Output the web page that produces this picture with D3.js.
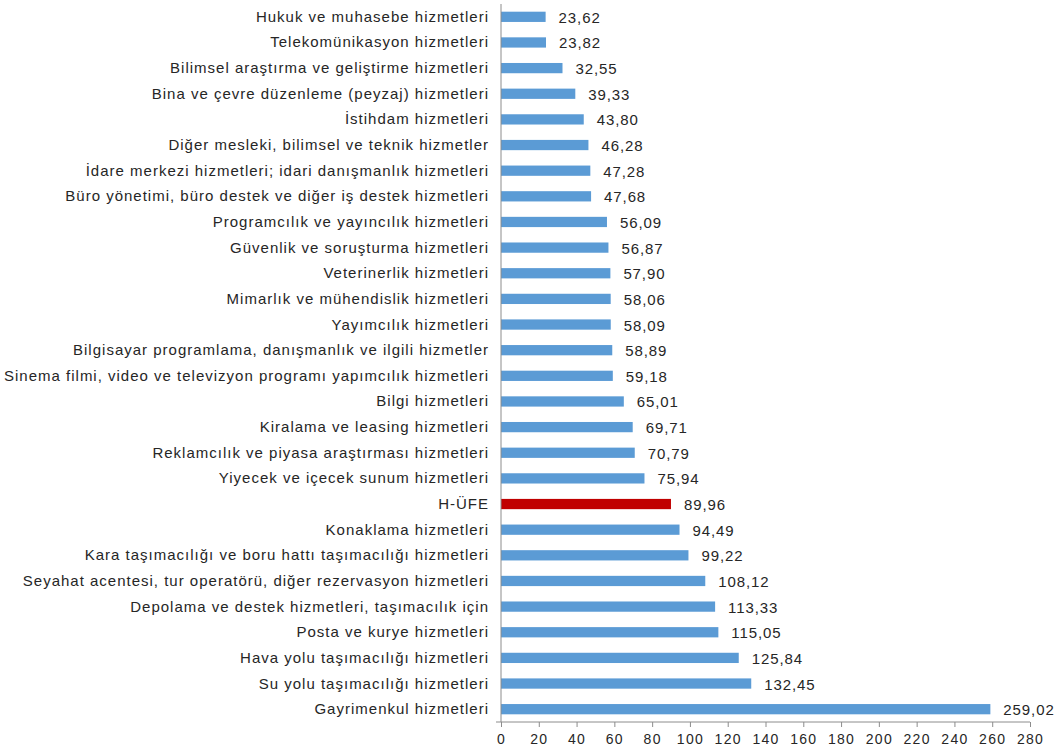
<!DOCTYPE html>
<html>
<head>
<meta charset="utf-8">
<script src="https://cdn.jsdelivr.net/npm/d3@7"></script>
<style>
  body { margin: 0; background: #fff; }
  text { font-family: "Liberation Sans", Arial, sans-serif; fill: #262626; }
</style>
</head>
<body>
<div id="chart"></div>
<script>
const categories = [
  "Hukuk ve muhasebe hizmetleri",
  "Telekomünikasyon hizmetleri",
  "Bilimsel araştırma ve geliştirme hizmetleri",
  "Bina ve çevre düzenleme (peyzaj) hizmetleri",
  "İstihdam hizmetleri",
  "Diğer mesleki, bilimsel ve teknik hizmetler",
  "İdare merkezi hizmetleri; idari danışmanlık hizmetleri",
  "Büro yönetimi, büro destek ve diğer iş destek hizmetleri",
  "Programcılık ve yayıncılık hizmetleri",
  "Güvenlik ve soruşturma hizmetleri",
  "Veterinerlik hizmetleri",
  "Mimarlık ve mühendislik hizmetleri",
  "Yayımcılık hizmetleri",
  "Bilgisayar programlama, danışmanlık ve ilgili hizmetler",
  "Sinema filmi, video ve televizyon programı yapımcılık hizmetleri",
  "Bilgi hizmetleri",
  "Kiralama ve leasing hizmetleri",
  "Reklamcılık ve piyasa araştırması hizmetleri",
  "Yiyecek ve içecek sunum hizmetleri",
  "H-ÜFE",
  "Konaklama hizmetleri",
  "Kara taşımacılığı ve boru hattı taşımacılığı hizmetleri",
  "Seyahat acentesi, tur operatörü, diğer rezervasyon hizmetleri",
  "Depolama ve destek hizmetleri, taşımacılık için",
  "Posta ve kurye hizmetleri",
  "Hava yolu taşımacılığı hizmetleri",
  "Su yolu taşımacılığı hizmetleri",
  "Gayrimenkul hizmetleri"
];
const values = [23.62, 23.82, 32.55, 39.33, 43.80, 46.28, 47.28, 47.68, 56.09, 56.87,
  57.90, 58.06, 58.09, 58.89, 59.18, 65.01, 69.71, 70.79, 75.94, 89.96,
  94.49, 99.22, 108.12, 113.33, 115.05, 125.84, 132.45, 259.02];
const highlight = "H-ÜFE";
const xTicks = d3.range(0, 281, 20);

const data = categories.map((c, i) => ({ name: c, value: values[i] }));

const width = 1062, height = 753;
const margin = { top: 4, right: 32, bottom: 31, left: 501 };

const svg = d3.select("#chart").append("svg")
  .attr("width", width)
  .attr("height", height);

const x = d3.scaleLinear()
  .domain([0, 280])
  .range([margin.left, width - margin.right]);

const y = d3.scaleBand()
  .domain(categories)
  .range([margin.top, height - margin.bottom])
  .paddingInner(0.6)
  .paddingOuter(0.3);

const fmt = v => d3.format(".2f")(v).replace(".", ",");

// bars
svg.append("g")
  .selectAll("rect")
  .data(data)
  .enter()
  .append("rect")
    .attr("x", x(0))
    .attr("y", d => y(d.name))
    .attr("width", d => x(d.value) - x(0))
    .attr("height", y.bandwidth())
    .attr("fill", d => d.name === highlight ? "#c00000" : "#5b9bd5");

// value labels
svg.append("g")
  .selectAll("text")
  .data(data)
  .enter()
  .append("text")
    .attr("x", d => x(d.value) + 13)
    .attr("y", d => y(d.name) + y.bandwidth() / 2 + 6)
    .attr("font-size", 15)
    .attr("letter-spacing", 0.9)
    .text(d => fmt(d.value));

// category labels
svg.append("g")
  .selectAll("text")
  .data(data)
  .enter()
  .append("text")
    .attr("x", margin.left - 12)
    .attr("y", d => y(d.name) + y.bandwidth() / 2 + 5)
    .attr("text-anchor", "end")
    .attr("font-size", 15)
    .attr("letter-spacing", 1)
    .text(d => d.name);

// y axis line
svg.append("line")
  .attr("x1", x(0)).attr("x2", x(0))
  .attr("y1", margin.top).attr("y2", height - margin.bottom)
  .attr("stroke", "#8c8c8c");

// x axis
const xAxis = svg.append("g")
  .attr("transform", "translate(0," + (height - margin.bottom) + ")")
  .call(d3.axisBottom(x).tickValues(xTicks).tickSize(5).tickPadding(7));
xAxis.select(".domain").attr("stroke", "#8c8c8c").attr("d", "M" + (x(0) - 5) + ",0H" + x(280));
xAxis.selectAll(".tick line").attr("stroke", "#8c8c8c");
xAxis.selectAll(".tick text")
  .attr("font-size", 14)
  .attr("letter-spacing", 1.3)
  .attr("font-family", "Liberation Sans, Arial, sans-serif")
  .attr("fill", "#262626");
</script>
</body>
</html>
